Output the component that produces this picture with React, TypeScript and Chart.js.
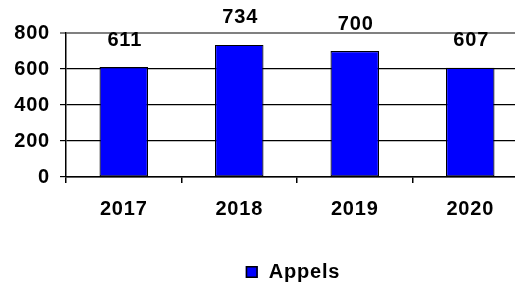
import React, { useEffect, useRef } from "react";
import { Chart, registerables } from "chart.js";

Chart.register(...registerables);

const categories = ["2017", "2018", "2019", "2020"];
const appels = [611, 734, 700, 607];
const seriesLabel = "Appels";
const yMin = 0;
const yMax = 800;
const yStep = 200;

const FONT_FAMILY = "'Liberation Sans', Arial, Helvetica, sans-serif";
const FONT_SIZE = 20;
const SPACING = "0.8px";

const spacingPlugin = {
  id: "spacing",
  beforeUpdate(chart: any) {
    chart.ctx.letterSpacing = SPACING;
  },
  beforeLayout(chart: any) {
    chart.ctx.letterSpacing = SPACING;
  },
  beforeDraw(chart: any) {
    chart.ctx.letterSpacing = SPACING;
  },
};

const valueLabelPlugin = {
  id: "valueLabels",
  afterDatasetsDraw(chart: any) {
    const ctx = chart.ctx;
    const meta = chart.getDatasetMeta(0);
    ctx.save();
    ctx.letterSpacing = SPACING;
    ctx.font = `bold ${FONT_SIZE}px ${FONT_FAMILY}`;
    ctx.fillStyle = "#000";
    ctx.textAlign = "center";
    ctx.textBaseline = "middle";
    meta.data.forEach((bar: any, i: number) => {
      const v = chart.data.datasets[0].data[i];
      ctx.fillText(String(v), bar.x + 1, bar.y - 27);
    });
    ctx.restore();
  },
};

const legendPlugin = {
  id: "customLegend",
  afterDraw(chart: any) {
    const ctx = chart.ctx;
    const ds = chart.data.datasets[0];
    const area = chart.chartArea;
    ctx.save();
    ctx.letterSpacing = SPACING;
    ctx.font = `bold ${FONT_SIZE}px ${FONT_FAMILY}`;
    const tw = ctx.measureText(ds.label).width;
    const box = 12;
    const gap = 11;
    const total = box + gap + tw;
    const cx = (area.left + area.right) / 2 - 4;
    const x0 = cx - total / 2;
    const cy = 272;
    ctx.fillStyle = ds.backgroundColor;
    ctx.strokeStyle = "#000";
    ctx.lineWidth = 1.5;
    ctx.fillRect(x0, cy - box / 2, box, box);
    ctx.strokeRect(x0 + 0.75, cy - box / 2 + 0.75, box - 1.5, box - 1.5);
    ctx.fillStyle = "#000";
    ctx.textAlign = "left";
    ctx.textBaseline = "middle";
    ctx.fillText(ds.label, x0 + box + gap, cy);
    ctx.restore();
  },
};

export default function App() {
  const ref = useRef<HTMLCanvasElement>(null);

  useEffect(() => {
    if (!ref.current) return;
    const chart = new Chart(ref.current, {
      type: "bar",
      data: {
        labels: categories,
        datasets: [
          {
            label: seriesLabel,
            data: appels,
            backgroundColor: "#0000FF",
            borderColor: "#000000",
            borderWidth: 1.2,
            borderSkipped: false,
            barPercentage: 0.42,
            categoryPercentage: 1,
          },
        ],
      },
      options: {
        responsive: false,
        animation: false,
        layout: { padding: { top: 33, right: 2, bottom: 0, left: 0 } },
        plugins: {
          legend: { display: false },
          tooltip: { enabled: false },
        },
        scales: {
          x: {
            offset: true,
            grid: {
              offset: true,
              drawOnChartArea: false,
              drawTicks: true,
              tickLength: 6,
              color: "#000",
              lineWidth: 1.5,
            },
            border: { display: true, color: "#000", width: 1.5 },
            ticks: {
              color: "#000",
              padding: 14,
              font: { family: FONT_FAMILY, size: FONT_SIZE, weight: "bold" },
              maxRotation: 0,
            },
            afterFit(scale: any) {
              scale.height = 105;
            },
          },
          y: {
            min: yMin,
            max: yMax,
            ticks: {
              stepSize: yStep,
              color: "#000",
              padding: 10,
              font: { family: FONT_FAMILY, size: FONT_SIZE, weight: "bold" },
            },
            grid: {
              color: (c: any) => (c.tick && c.tick.value === yMax ? "#808080" : "#000"),
              lineWidth: (c: any) => (c.tick && c.tick.value === yMax ? 2 : 1.2),
              tickLength: 6,
              drawTicks: true,
            },
            border: { display: true, color: "#000", width: 1.5 },
            afterFit(scale: any) {
              scale.width = 66;
            },
          },
        },
      },
      plugins: [spacingPlugin, valueLabelPlugin, legendPlugin],
    });
    return () => chart.destroy();
  }, []);

  return (
    <div style={{ position: "fixed", left: 0, top: 0, width: 530, height: 282, background: "#fff" }}>
      <canvas ref={ref} width={530} height={282} />
    </div>
  );
}
